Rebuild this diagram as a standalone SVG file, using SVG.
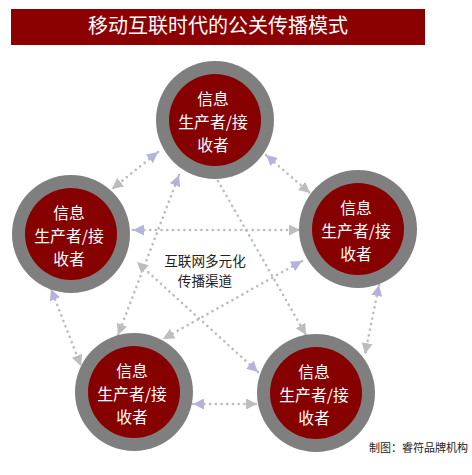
<svg xmlns="http://www.w3.org/2000/svg" width="472" height="475" viewBox="0 0 472 475">
<style>
.ring{fill:#7f7f7f}
.core{fill:#870000}
.nt{font-family:"Noto Sans CJK SC","Liberation Sans",sans-serif;font-size:15.8px;fill:#ffffff;text-anchor:middle}
.ct{font-family:"Noto Sans CJK SC","Liberation Sans",sans-serif;font-size:13.6px;fill:#222222;text-anchor:middle}
.conn line{stroke:#bcbcbc;stroke-width:2.6;stroke-dasharray:0.1 5.6;stroke-linecap:round;fill:none}
</style>
<defs>
<marker id="aL" markerUnits="userSpaceOnUse" viewBox="0 0 10 10" refX="10" refY="5" markerWidth="11" markerHeight="11" orient="auto-start-reverse"><path d="M0,0 L10,5 L0,10 z" fill="#b3b3dc"/></marker>
<marker id="aG" markerUnits="userSpaceOnUse" viewBox="0 0 10 10" refX="10" refY="5" markerWidth="11" markerHeight="11" orient="auto"><path d="M0,0 L10,5 L0,10 z" fill="#bdbdbd"/></marker>
</defs>
<rect width="472" height="475" fill="#ffffff"/>
<g id="title">
<rect x="11" y="9" width="414" height="36" fill="#8b0000"/>
<text x="218" y="33" font-family="Noto Sans CJK SC,Liberation Sans,sans-serif" font-size="20" fill="#ffffff" text-anchor="middle">移动互联时代的公关传播模式</text>
</g>
<g id="connectors" class="conn">
<line x1="158" y1="152" x2="112" y2="189" marker-start="url(#aL)" marker-end="url(#aG)"/>
<line x1="266" y1="155" x2="310" y2="193" marker-start="url(#aL)" marker-end="url(#aG)"/>
<line x1="133" y1="230" x2="300" y2="230" marker-start="url(#aL)" marker-end="url(#aG)"/>
<line x1="179" y1="175" x2="118" y2="335" marker-start="url(#aL)" marker-end="url(#aG)"/>
<line x1="218" y1="181" x2="306" y2="335" marker-end="url(#aG)"/>
<line x1="51" y1="289" x2="81" y2="366" marker-start="url(#aL)" marker-end="url(#aG)"/>
<line x1="258" y1="372" x2="137" y2="262" marker-start="url(#aL)" marker-end="url(#aG)"/>
<line x1="302" y1="261" x2="163" y2="339" marker-start="url(#aL)" marker-end="url(#aG)"/>
<line x1="379" y1="285" x2="365" y2="354" marker-start="url(#aL)" marker-end="url(#aG)"/>
<line x1="193" y1="404" x2="257" y2="404" marker-start="url(#aL)" marker-end="url(#aG)"/>
</g>
<g id="node-top">
<circle class="ring" cx="215" cy="120" r="59"/>
<circle class="core" cx="215" cy="120" r="46"/>
<text class="nt" x="213" y="105">信息</text>
<text class="nt" x="213" y="128">生产者/接</text>
<text class="nt" x="213" y="151">收者</text>
</g>
<g id="node-left">
<circle class="ring" cx="71" cy="234" r="59"/>
<circle class="core" cx="71" cy="234" r="46"/>
<text class="nt" x="69" y="219">信息</text>
<text class="nt" x="69" y="242">生产者/接</text>
<text class="nt" x="69" y="265">收者</text>
</g>
<g id="node-right">
<circle class="ring" cx="358" cy="229" r="59"/>
<circle class="core" cx="358" cy="229" r="46"/>
<text class="nt" x="356" y="214">信息</text>
<text class="nt" x="356" y="237">生产者/接</text>
<text class="nt" x="356" y="260">收者</text>
</g>
<g id="node-bottom-left">
<circle class="ring" cx="134" cy="392" r="59"/>
<circle class="core" cx="134" cy="392" r="46"/>
<text class="nt" x="132" y="377">信息</text>
<text class="nt" x="132" y="400">生产者/接</text>
<text class="nt" x="132" y="423">收者</text>
</g>
<g id="node-bottom-right">
<circle class="ring" cx="316" cy="393" r="59"/>
<circle class="core" cx="316" cy="393" r="46"/>
<text class="nt" x="314" y="378">信息</text>
<text class="nt" x="314" y="401">生产者/接</text>
<text class="nt" x="314" y="424">收者</text>
</g>
<g id="center-label">
<text class="ct" x="205" y="266">互联网多元化</text>
<text class="ct" x="205" y="286">传播渠道</text>
</g>
<text x="468" y="452" font-family="Noto Sans CJK SC,Liberation Sans,sans-serif" font-size="11" fill="#222222" text-anchor="end">制图：睿符品牌机构</text>
</svg>
